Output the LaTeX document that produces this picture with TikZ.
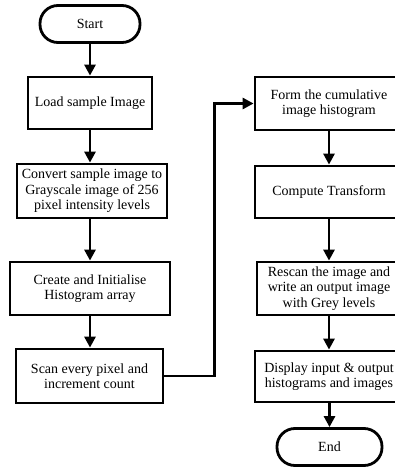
\documentclass[tikz,border=0pt]{standalone}
\usepackage{fontspec}
\setmainfont{Liberation Serif}
\usetikzlibrary{arrows.meta}
\tikzset{
  box/.style={draw,line width=2.8pt,align=center,inner sep=0pt,minimum height=53pt},
  term/.style={draw,line width=2.8pt,rounded corners=18pt,inner sep=0pt,minimum height=37pt},
  flow/.style={line width=2.8pt,-{Triangle[length=11pt,width=11pt]}}
}
\begin{document}
\begin{tikzpicture}[x=1pt,y=-1pt,font=\fontsize{14}{15.5}\selectfont]
\useasboundingbox (0,0) rectangle (394,468);
% left column
\node[term,minimum width=100pt] (start) at (90,24) {Start};
\node[box,minimum width=124pt,minimum height=52pt] (load) at (90,103) {Load sample Image};
\node[box,minimum width=150pt,minimum height=54pt] (conv) at (92,191) {Convert sample image to\\Grayscale image of 256\\pixel intensity levels};
\node[box,minimum width=160pt] (create) at (90,288.5) {Create and Initialise\\Histogram array};
\node[box,minimum width=147pt,minimum height=54pt] (scan) at (89.5,376) {Scan every pixel and\\increment count};
% right column
\node[box,minimum width=148pt] (form) at (329,103.5) {Form the cumulative\\image histogram};
\node[box,minimum width=148pt,minimum height=52pt] (comp) at (329,192) {Compute Transform};
\node[box,minimum width=144pt] (rescan) at (329,288.5) {Rescan the image and\\write an output image\\with Grey levels};
\node[box,minimum width=148pt,minimum height=51pt] (disp) at (329,376.5) {Display input \& output\\histograms and images};
\node[term,minimum width=105pt] (end) at (329.5,447) {End};
% connectors
\draw[flow] (start) -- (load);
\draw[flow] (load) -- (load|-conv.north);
\draw[flow] (load|-conv.south) -- (load|-create.north);
\draw[flow] (create) -- (create|-scan.north);
\draw[flow] (scan.east) -- ++(50,0) |- (form.west);
\draw[flow] (form) -- (comp);
\draw[flow] (comp) -- (rescan);
\draw[flow] (rescan) -- (disp);
\draw[flow] (disp.south-|end) -- (end);
\end{tikzpicture}
\end{document}
